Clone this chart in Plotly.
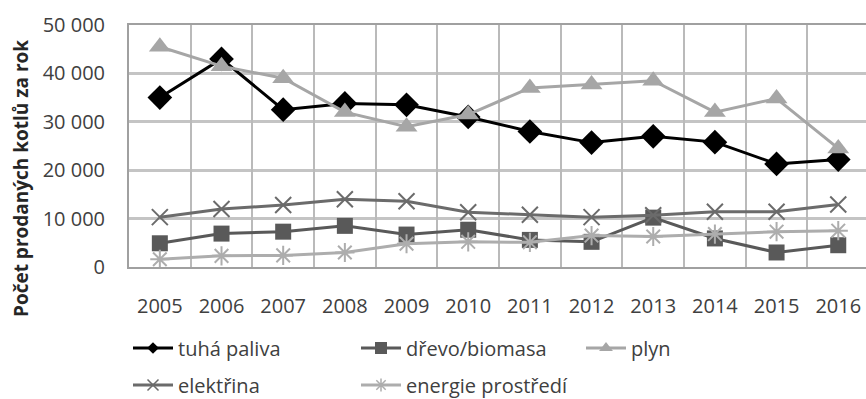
import plotly.graph_objects as go

# Prodej kotlů podle druhu paliva (počet kusů za rok)
years = [2005, 2006, 2007, 2008, 2009, 2010, 2011, 2012, 2013, 2014, 2015, 2016]
tuha_paliva = [35000, 43000, 32500, 33800, 33500, 31000, 28000, 25700, 27000, 25800, 21300, 22200]
drevo_biomasa = [4900, 6900, 7300, 8500, 6700, 7700, 5600, 5200, 10200, 5900, 3000, 4500]
plyn = [45500, 41500, 39000, 32000, 29000, 31500, 37000, 37700, 38500, 32000, 34800, 24500]
elektrina = [10300, 12000, 12800, 14000, 13600, 11300, 10800, 10300, 10700, 11400, 11400, 12900]
energie_prostredi = [1600, 2300, 2400, 3000, 4800, 5200, 5100, 6500, 6300, 6800, 7300, 7500]

y_ticks = [0, 10000, 20000, 30000, 40000, 50000]
y_ticktext = ["0", "10 000", "20 000", "30 000", "40 000", "50 000"]

FONT = "Open Sans, Liberation Sans, sans-serif"

series = [
    # name, values, colour, symbol, marker size, legend marker size, legend id, legend x (px), legend y (px)
    ("tuhá paliva", tuha_paliva, "#000000", "diamond", 19, 9, "legend", 128, 348),
    ("dřevo/biomasa", drevo_biomasa, "#595959", "square", 16, 12, "legend2", 356, 348),
    ("plyn", plyn, "#a6a6a6", "triangle-up", 19, 12, "legend3", 581, 348),
    ("elektřina", elektrina, "#6b6b6b", "x-thin-open", 16, 11, "legend4", 128, 385),
    ("energie prostředí", energie_prostredi, "#adadad", "asterisk-open", 16, 11, "legend5", 356, 385),
]

W, H = 866, 399
X_RANGE = [2004.5, 2016.45]
fig = go.Figure()

# category separators drawn as the grid of an overlaid, label-free axis
boundaries = [y - 0.5 for y in years] + [years[-1] + 0.5]
fig.add_trace(go.Scatter(x=boundaries, y=[None] * len(boundaries), xaxis="x2",
                         showlegend=False, hoverinfo="skip"))

for name, vals, col, sym, msize, lsize, leg, lx, ly in series:
    open_sym = sym.endswith("-open")
    fig.add_trace(go.Scatter(
        x=years, y=vals, mode="lines+markers", name=name, showlegend=False,
        line=dict(color=col, width=3),
        marker=dict(symbol=sym, size=msize, color=col,
                    line=dict(color=col, width=2 if open_sym else 0)),
    ))
    # legend entry with the smaller key marker
    fig.add_trace(go.Scatter(
        x=[years[0]], y=[None], mode="lines+markers", name=name, legend=leg,
        line=dict(color=col, width=3),
        marker=dict(symbol=sym, size=lsize, color=col,
                    line=dict(color=col, width=1.5 if open_sym else 0)),
    ))

legend_common = dict(
    xref="container", yref="container", xanchor="left", yanchor="middle",
    bgcolor="rgba(0,0,0,0)", borderwidth=0, itemwidth=40,
    font=dict(family=FONT, size=20, color="#404040"),
)
layout_legends = {}
for name, vals, col, sym, msize, lsize, leg, lx, ly in series:
    layout_legends[leg] = dict(legend_common, x=lx / W, y=1 - ly / H)

fig.update_layout(
    width=W, height=H,
    margin=dict(l=129, r=0, t=25, b=132, autoexpand=False),
    paper_bgcolor="white", plot_bgcolor="white",
    font=dict(family=FONT, size=20, color="#404040"),
    xaxis=dict(
        range=X_RANGE, tickvals=years, ticktext=[str(y) for y in years],
        showgrid=False, zeroline=False,
        showline=True, linecolor="#a0a0a0", linewidth=2, mirror=True,
        ticks="outside", ticklen=20, tickcolor="rgba(0,0,0,0)",
        tickfont=dict(family=FONT, size=20, color="#404040"),
    ),
    xaxis2=dict(
        overlaying="x", range=X_RANGE, tickvals=boundaries, showticklabels=False,
        showgrid=True, gridcolor="#bababa", gridwidth=2,
        zeroline=False, showline=False, ticks="",
    ),
    yaxis=dict(
        range=[0, 50000], tickvals=y_ticks, ticktext=y_ticktext,
        showgrid=True, gridcolor="#c4c4c4", gridwidth=2.5, zeroline=False,
        showline=True, linecolor="#a0a0a0", linewidth=2,
        ticks="outside", ticklen=18, tickcolor="rgba(0,0,0,0)",
        tickfont=dict(family=FONT, size=20, color="#404040"),
    ),
    annotations=[dict(
        text="<b>Počet prodaných kotlů za rok</b>", textangle=-90,
        xref="paper", yref="paper", x=(21 - 129) / 737, y=(267 - 179) / 242,
        xanchor="center", yanchor="middle", showarrow=False,
        font=dict(family=FONT, size=19, color="#262626"),
    )],
    **layout_legends,
)

fig.write_html("out.html")
